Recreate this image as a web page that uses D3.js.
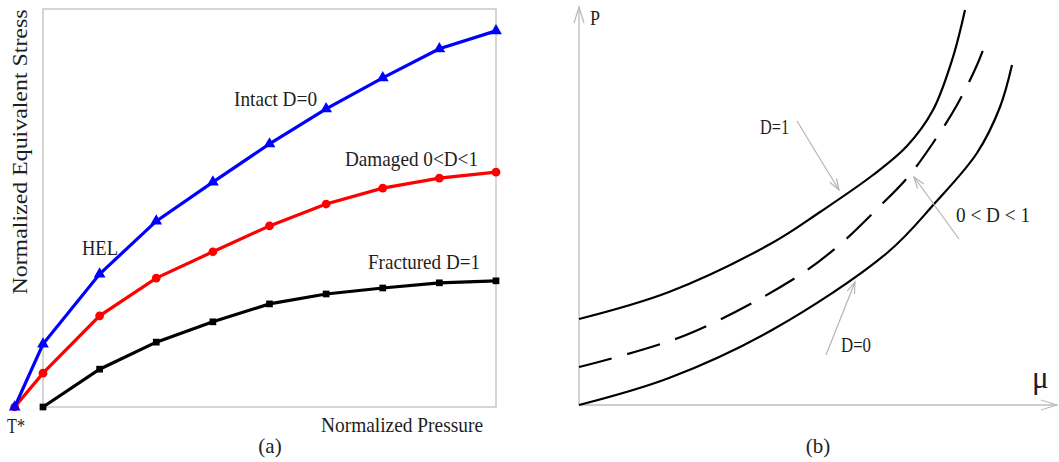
<!DOCTYPE html>
<html lang="en">
<head>
<meta charset="utf-8">
<title>JH-2 strength and pressure curves</title>
<style>
  body { margin: 0; background: #fff; }
  text { font-family: "Liberation Serif", "DejaVu Serif", serif; fill: #1e1e1e; }
</style>
</head>
<body>
<script src="https://cdn.jsdelivr.net/npm/d3@7"></script>
<script>
// ---- panel (a) data: normalized pressure index vs normalized equivalent stress
var xa = [-0.5, 0, 1, 2, 3, 4, 5, 6, 7, 8];
var intact = [0, 15.8, 33.4, 46.7, 56.5, 66.1, 74.9, 82.7, 90.0, 94.5];
var damaged = [0, 8.5, 22.9, 32.4, 39.0, 45.5, 51.0, 55.0, 57.5, 59.0];
var xFrac = [0, 1, 2, 3, 4, 5, 6, 7, 8];
var fractured = [0, 9.5, 16.3, 21.4, 25.9, 28.4, 29.9, 31.2, 31.7];

// ---- panel (b) data: mu vs P
var muD1 = [0, 90, 193, 241, 294, 328, 354, 374, 386];
var pD1 = [86, 113, 162, 193, 230, 259, 295, 348, 395];
var muMid = [0, 107, 213, 258, 299, 329, 354, 378, 398, 408];
var pMid = [38, 70, 125, 158, 197, 228, 262, 300, 340, 366];
var muD0 = [0, 90, 193, 308, 356, 398, 421, 433];
var pD0 = [0, 27, 75, 152, 202, 252, 298, 340];

var width = 1059, height = 462;
var svg = d3.select("body").append("svg").attr("width", width).attr("height", height);

// ================= panel (a) =================
var xA = d3.scaleLinear().domain([0, 8]).range([43, 496]);
var yA = d3.scaleLinear().domain([0, 100]).range([407, 9]);

svg.append("rect")
  .attr("x", xA(0)).attr("y", yA(100))
  .attr("width", xA(8) - xA(0)).attr("height", yA(0) - yA(100))
  .attr("fill", "none").attr("stroke", "#c8c8c8").attr("stroke-width", 1.5);

var lineA = d3.line().x(d => xA(d[0])).y(d => yA(d[1]));

function series(xs, ys, color, symbol, size) {
  var pts = xs.map((x, i) => [x, ys[i]]);
  svg.append("path").datum(pts)
    .attr("d", lineA).attr("fill", "none")
    .attr("stroke", color).attr("stroke-width", 3.2);
  svg.selectAll(null).data(pts).enter().append("path")
    .attr("transform", d => "translate(" + xA(d[0]) + "," + yA(d[1]) + ")")
    .attr("d", d3.symbol().type(symbol).size(size))
    .attr("fill", color);
}
series(xFrac, fractured, "#000", d3.symbolSquare, 45);
series(xa, damaged, "#ff0000", d3.symbolCircle, 60);
series(xa, intact, "#0000ff", d3.symbolTriangle, 60);

function label(txt, x, y, len, size, anchor) {
  var t = svg.append("text").attr("x", x).attr("y", y)
    .style("font-size", size + "px")
    .attr("text-anchor", anchor || "start")
    .text(txt);
  if (len) t.attr("textLength", len).attr("lengthAdjust", "spacingAndGlyphs");
  return t;
}

label("Intact D=0", 234, 106, 83, 22);
label("Damaged 0<D<1", 345, 166, 133, 22);
label("HEL", 82, 255, 36, 22);
label("Fractured D=1", 368, 269, 112, 22);
label("T*", 7, 433, 18, 22);
label("Normalized Pressure", 321, 432, 162, 22);
label("(a)", 270, 453, null, 21, "middle");
svg.append("text")
  .attr("transform", "translate(27,152) rotate(-90)")
  .attr("text-anchor", "middle")
  .style("font-size", "22px")
  .attr("textLength", 285).attr("lengthAdjust", "spacingAndGlyphs")
  .text("Normalized Equivalent Stress");

// ================= panel (b) =================
var xB = d3.scaleLinear().domain([0, 480]).range([579, 1059]);
var yB = d3.scaleLinear().domain([0, 400]).range([405, 5]);

var axisColor = "#bdbdbd";
var yTop = 398, xEnd = 478;
svg.append("line").attr("x1", xB(0)).attr("y1", yB(0)).attr("x2", xB(0)).attr("y2", yB(yTop))
  .attr("stroke", axisColor).attr("stroke-width", 1.3);
svg.append("path").attr("d", "M" + (xB(0) - 5) + "," + (yB(yTop) + 16) + "L" + xB(0) + "," + yB(yTop) + "L" + (xB(0) + 5) + "," + (yB(yTop) + 16))
  .attr("fill", "none").attr("stroke", axisColor).attr("stroke-width", 1.3);
svg.append("line").attr("x1", xB(0)).attr("y1", yB(0)).attr("x2", xB(xEnd)).attr("y2", yB(0))
  .attr("stroke", axisColor).attr("stroke-width", 1.3);
svg.append("path").attr("d", "M" + (xB(xEnd) - 16) + "," + (yB(0) - 5) + "L" + xB(xEnd) + "," + yB(0) + "L" + (xB(xEnd) - 16) + "," + (yB(0) + 5))
  .attr("fill", "none").attr("stroke", axisColor).attr("stroke-width", 1.3);

label("P", 590, 25, 10, 21);
label("μ", 1032, 388, null, 31);

var lineB = d3.line().x(d => xB(d[0])).y(d => yB(d[1])).curve(d3.curveCatmullRom);
function curveB(mu, p, dash) {
  svg.append("path").datum(mu.map((m, i) => [m, p[i]]))
    .attr("d", lineB).attr("fill", "none")
    .attr("stroke", "#000").attr("stroke-width", 2.2)
    .attr("stroke-dasharray", dash || null);
}
curveB(muD1, pD1);
curveB(muMid, pMid, "34,16");
curveB(muD0, pD0);

// annotation arrows
function arrow(x1, y1, x2, y2) {
  var a = Math.atan2(y2 - y1, x2 - x1), L = 12, w = 0.33;
  svg.append("line").attr("x1", x1).attr("y1", y1).attr("x2", x2).attr("y2", y2)
    .attr("stroke", "#b5b5b5").attr("stroke-width", 1.2);
  svg.append("path")
    .attr("d", "M" + (x2 - L * Math.cos(a - w)) + "," + (y2 - L * Math.sin(a - w)) +
      "L" + x2 + "," + y2 +
      "L" + (x2 - L * Math.cos(a + w)) + "," + (y2 - L * Math.sin(a + w)))
    .attr("fill", "none").attr("stroke", "#b5b5b5").attr("stroke-width", 1.2);
}
arrow(797, 121, 839, 190);
arrow(959, 239, 914, 177);
arrow(826, 355, 855, 282);

label("D=1", 760, 134, 29, 21);
label("0 < D < 1", 956, 222, 74, 21);
label("D=0", 841, 352, 30, 21);
label("(b)", 818, 453, null, 21, "middle");
</script>
</body>
</html>
